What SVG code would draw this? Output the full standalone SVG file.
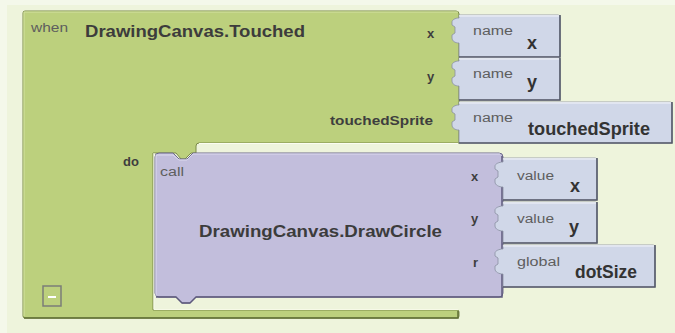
<svg xmlns="http://www.w3.org/2000/svg" width="675" height="333" viewBox="0 0 675 333">
<defs>
<style>
.bg{fill:#eef4dc}
.grn{fill:#bcd07d;stroke:#7a8a48;stroke-width:1}
.pur{fill:#c2bedc;stroke:#6e6b8c;stroke-width:1}
.inp{fill:#d0d7e8;stroke:#8a90a2;stroke-width:0.8}
.sh{fill:none;stroke:#555a6a;stroke-width:1.6}
.hl{fill:none;stroke:#f2f4fa;stroke-width:1.2}
.small{font-family:"Liberation Sans",Arial,sans-serif;font-size:12px;fill:#5e5e5e}
.lbl{font-family:"Liberation Sans",Arial,sans-serif;font-size:13px;font-weight:bold;fill:#3e3e3e}
.title{font-family:"Liberation Sans",Arial,sans-serif;font-size:17px;font-weight:bold;fill:#3c3c3c}
.val{font-family:"Liberation Sans",Arial,sans-serif;font-size:18px;font-weight:bold;fill:#333}
</style>
</defs>
<rect class="bg" x="0" y="0" width="675" height="333"/>
<rect x="0" y="0" width="675" height="5" fill="#f4f8ea"/>
<rect x="0" y="0" width="7" height="333" fill="#f4f8ea"/>

<g id="event-block">
<path class="grn" d="M23,13 Q23,11 25,11 H456 Q459,11 459,14 V143 H199 Q196,143 196,146 V153 H191 L185,159 H181 L176,153 H153 V310 H457 Q459,310 459,312 V316 Q459,318 457,318 H25 Q23,318 23,316 Z"/>
<path d="M24,318 H458 V311" fill="none" stroke="#5f6e34" stroke-width="1.5"/>
<path d="M199,143.5 H458" fill="none" stroke="#fbfdf2" stroke-width="1.2"/>
<path d="M154,153 V309.5 H458" fill="none" stroke="#f6f9e8" stroke-width="1"/>
<path d="M24,316 V12 H458" fill="none" stroke="#d3e2a2" stroke-width="1"/>
<text class="small" x="31" y="32" textLength="37" lengthAdjust="spacingAndGlyphs">when</text>
<text class="title" x="85" y="37" textLength="220" lengthAdjust="spacingAndGlyphs">DrawingCanvas.Touched</text>
<text class="lbl" x="427" y="38">x</text>
<text class="lbl" x="427" y="81">y</text>
<text class="lbl" x="330" y="125" textLength="103" lengthAdjust="spacingAndGlyphs">touchedSprite</text>
<text class="lbl" x="123" y="166">do</text>
<rect x="43" y="286" width="18" height="20" fill="none" stroke="#7b7d78" stroke-width="1.5"/>
<line x1="48" y1="297" x2="56" y2="297" stroke="#ffffff" stroke-width="2"/>
</g>

<g id="call-block">
<path class="pur" d="M155,157 Q155,153 159,153 H173 L179,159 H187 L193,153 H499 Q503,153 503,157 V293 Q503,297 499,297 H196 L190,303 H182 L176,297 H159 Q155,297 155,293 Z"/>
<path d="M156,297 H176 L182,303 H190 L196,297 H502 V156" fill="none" stroke="#5d5a7c" stroke-width="1.5"/>
<path d="M156,296 V155 H173 L179,160 H187 L193,154 H500" fill="none" stroke="#dcdaee" stroke-width="1"/>
<text class="small" x="160" y="176" textLength="24" lengthAdjust="spacingAndGlyphs">call</text>
<text class="title" x="199" y="237" textLength="243" lengthAdjust="spacingAndGlyphs">DrawingCanvas.DrawCircle</text>
<text class="lbl" x="471" y="181">x</text>
<text class="lbl" x="471" y="223">y</text>
<text class="lbl" x="473" y="267">r</text>
</g>

<g id="name-x">
<path class="inp" d="M459,15 H558 Q560,15 560,17 V57 H459 V43 C455,43 452,41 452,38 V35 L455,33 V27 L452,25 V22 C452,20 455,18 459,18 Z"/>
<path class="sh" d="M459,57 H560 V15"/>
<path class="hl" d="M459,15.8 H559"/>
<text class="small" x="473" y="35" textLength="40" lengthAdjust="spacingAndGlyphs">name</text>
<text class="val" x="527" y="49">x</text>
</g>

<g id="name-y">
<path class="inp" d="M459,58 H558 Q560,58 560,60 V100 H459 V86 C455,86 452,84 452,81 V78 L455,76 V70 L452,68 V65 C452,63 455,61 459,61 Z"/>
<path class="sh" d="M459,100 H560 V58"/>
<path class="hl" d="M459,58.8 H559"/>
<text class="small" x="473" y="78" textLength="40" lengthAdjust="spacingAndGlyphs">name</text>
<text class="val" x="527" y="88">y</text>
</g>

<g id="name-touchedSprite">
<path class="inp" d="M459,102 H670 Q672,102 672,104 V143 H459 V130 C455,130 452,128 452,125 V122 L455,120 V114 L452,112 V109 C452,107 455,105 459,105 Z"/>
<path class="sh" d="M459,143 H672 V102"/>
<path class="hl" d="M459,102.8 H671"/>
<text class="small" x="473" y="122" textLength="40" lengthAdjust="spacingAndGlyphs">name</text>
<text class="val" x="528" y="135" textLength="122" lengthAdjust="spacingAndGlyphs">touchedSprite</text>
</g>

<g id="value-x">
<path class="inp" d="M503,158 H595 Q597,158 597,160 V200 H503 V187 C499,187 495,185 495,182 V179 L498,177 V171 L495,169 V166 C495,164 499,162 503,162 Z"/>
<path class="sh" d="M503,200 H597 V158"/>
<path class="hl" d="M503,158.8 H596"/>
<text class="small" x="517" y="180" textLength="37" lengthAdjust="spacingAndGlyphs">value</text>
<text class="val" x="570" y="192">x</text>
</g>

<g id="value-y">
<path class="inp" d="M503,202 H595 Q597,202 597,204 V243 H503 V231 C499,231 495,229 495,226 V223 L498,221 V215 L495,213 V210 C495,208 499,206 503,206 Z"/>
<path class="sh" d="M503,243 H597 V202"/>
<path class="hl" d="M503,202.8 H596"/>
<text class="small" x="517" y="223" textLength="37" lengthAdjust="spacingAndGlyphs">value</text>
<text class="val" x="569" y="233">y</text>
</g>

<g id="global-dotSize">
<path class="inp" d="M503,245 H653 Q655,245 655,247 V287 H503 V274 C499,274 495,272 495,269 V266 L498,264 V258 L495,256 V253 C495,251 499,249 503,249 Z"/>
<path class="sh" d="M503,287 H655 V245"/>
<path class="hl" d="M503,245.8 H654"/>
<text class="small" x="517" y="266" textLength="43" lengthAdjust="spacingAndGlyphs">global</text>
<text class="val" x="575" y="278" textLength="62" lengthAdjust="spacingAndGlyphs">dotSize</text>
</g>

<g id="connectors"></g>
</svg>
